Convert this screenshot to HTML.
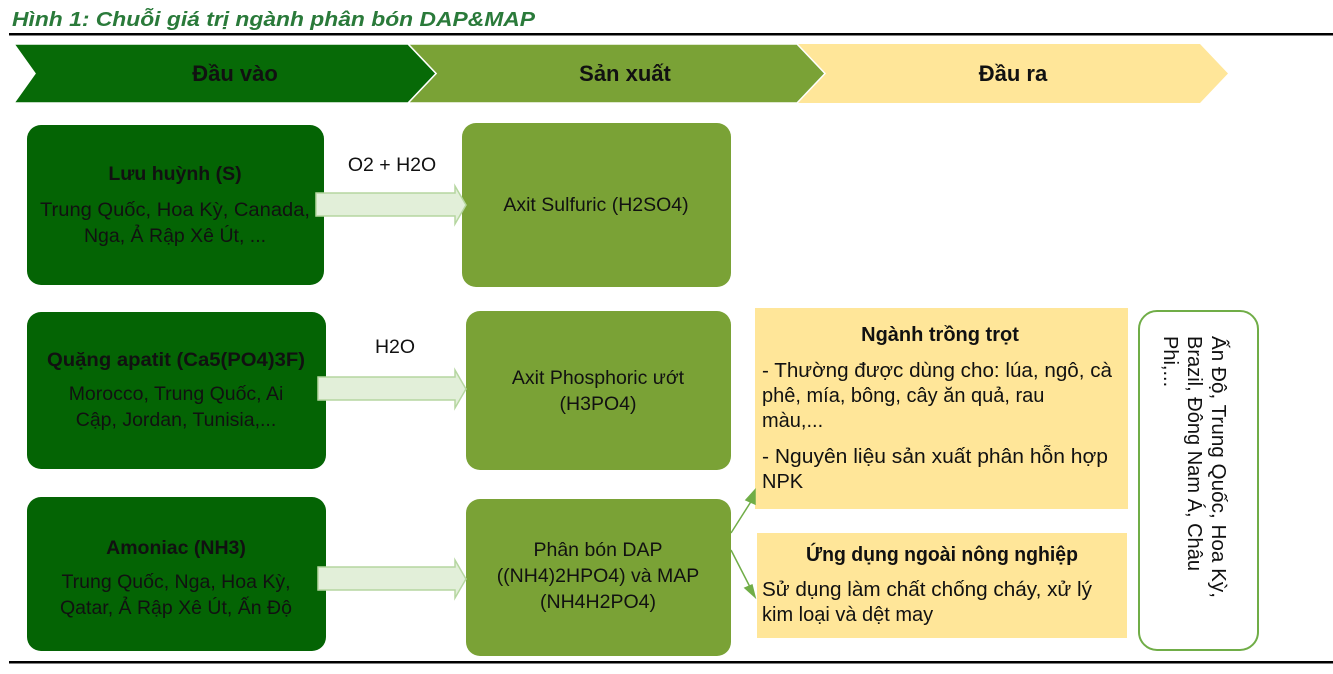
<!DOCTYPE html>
<html><head><meta charset="utf-8"><style>
body{margin:0;background:#fff}
svg text{font-family:"Liberation Sans","Noto Sans CJK SC",sans-serif}
</style></head><body>
<svg width="1333" height="669" xmlns="http://www.w3.org/2000/svg">
<rect width="1333" height="669" fill="#fff"/>
<text x="12" y="26" font-size="20" font-weight="bold" font-style="italic" fill="#2a7a3a" textLength="523" lengthAdjust="spacingAndGlyphs">Hình 1: Chuỗi giá trị ngành phân bón DAP&amp;MAP</text>
<rect x="9" y="33" width="1324" height="2.5" fill="#000"/>
<rect x="9" y="661" width="1324" height="2.5" fill="#000"/>
<polygon points="797,44 1200,44 1228,73.5 1200,103 797,103 825,73.5" fill="#ffe699"/>
<polygon points="408,44 797,44 825,73.5 797,103 408,103 436,73.5" fill="#7aa236" stroke="#fff" stroke-width="1.5"/>
<polygon points="14,44 408,44 436,73.5 408,103 14,103 35,73.5" fill="#076a07" stroke="#fff" stroke-width="1.5"/>
<g font-size="22" font-weight="bold" text-anchor="middle" fill="#111">
<text x="235" y="81">Đầu vào</text><text x="625" y="81">Sản xuất</text><text x="1013" y="81">Đầu ra</text></g>
<g fill="#046404">
<rect x="27" y="125" width="297" height="160" rx="14"/>
<rect x="27" y="312" width="299" height="157" rx="14"/>
<rect x="27" y="497" width="299" height="154" rx="14"/>
</g>
<g fill="#7aa236">
<rect x="462" y="123" width="269" height="164" rx="14"/>
<rect x="466" y="311" width="265" height="159" rx="14"/>
<rect x="466" y="499" width="265" height="157" rx="14"/>
</g>
<g fill="#e2efd9" stroke="#b5d6a0" stroke-width="1.5">
<polygon points="316,193 455,193 455,186 466,205 455,224 455,216 316,216"/>
<polygon points="318,377 455,377 455,370 466,389 455,408 455,400 318,400"/>
<polygon points="318,567 455,567 455,560 466,579 455,598 455,590 318,590"/>
</g>
<g font-size="19.5" fill="#111" text-anchor="middle">
<text x="392" y="171">O2 + H2O</text>
<text x="395" y="353">H2O</text>
<text x="175" y="180" font-weight="bold">Lưu huỳnh (S)</text>
<text x="175" y="216" textLength="270" lengthAdjust="spacingAndGlyphs">Trung Quốc, Hoa Kỳ, Canada,</text>
<text x="175" y="242">Nga, Ả Rập Xê Út, ...</text>
<text x="176" y="366" font-weight="bold" textLength="258" lengthAdjust="spacingAndGlyphs">Quặng apatit (Ca5(PO4)3F)</text>
<text x="176" y="400">Morocco, Trung Quốc, Ai</text>
<text x="176" y="426">Cập, Jordan, Tunisia,...</text>
<text x="176" y="554" font-weight="bold">Amoniac (NH3)</text>
<text x="176" y="588">Trung Quốc, Nga, Hoa Kỳ,</text>
<text x="176" y="614">Qatar, Ả Rập Xê Út, Ấn Độ</text>
<text x="596" y="211">Axit Sulfuric (H2SO4)</text>
<text x="598" y="384">Axit Phosphoric ướt</text>
<text x="598" y="410">(H3PO4)</text>
<text x="598" y="556">Phân bón DAP</text>
<text x="598" y="582">((NH4)2HPO4) và MAP</text>
<text x="598" y="608">(NH4H2PO4)</text>
</g>
<rect x="755" y="308" width="373" height="201" fill="#ffe699"/>
<rect x="757" y="533" width="370" height="105" fill="#ffe699"/>
<g font-size="20" fill="#111">
<text x="940" y="341" text-anchor="middle" font-weight="bold">Ngành trồng trọt</text>
<text x="762" y="377" textLength="350" lengthAdjust="spacingAndGlyphs">- Thường được dùng cho: lúa, ngô, cà</text>
<text x="762" y="402">phê, mía, bông, cây ăn quả, rau</text>
<text x="762" y="427">màu,...</text>
<text x="762" y="463" textLength="346" lengthAdjust="spacingAndGlyphs">- Nguyên liệu sản xuất phân hỗn hợp</text>
<text x="762" y="488">NPK</text>
<text x="942" y="561" text-anchor="middle" font-weight="bold" textLength="272" lengthAdjust="spacingAndGlyphs">Ứng dụng ngoài nông nghiệp</text>
<text x="762" y="596" textLength="330" lengthAdjust="spacingAndGlyphs">Sử dụng làm chất chống cháy, xử lý</text>
<text x="762" y="621">kim loại và dệt may</text>
</g>
<g stroke="#70ad47" stroke-width="1.5" fill="#70ad47">
<line x1="731" y1="533" x2="752" y2="500"/>
<polygon points="755,490 746,500 755,504"/>
<line x1="731" y1="550" x2="750" y2="587"/>
<polygon points="755,597 745,588 752,585"/>
</g>
<rect x="1139" y="311" width="119" height="339" rx="18" fill="#fff" stroke="#70ad47" stroke-width="2"/>
<g font-size="20" fill="#111" transform="rotate(90)">
<text x="336" y="-1212" textLength="262" lengthAdjust="spacingAndGlyphs">Ấn Độ, Trung Quốc, Hoa Kỳ,</text>
<text x="336" y="-1188" textLength="235" lengthAdjust="spacingAndGlyphs">Brazil, Đông Nam Á, Châu</text>
<text x="336" y="-1164">Phi,...</text>
</g>
</svg>
</body></html>
